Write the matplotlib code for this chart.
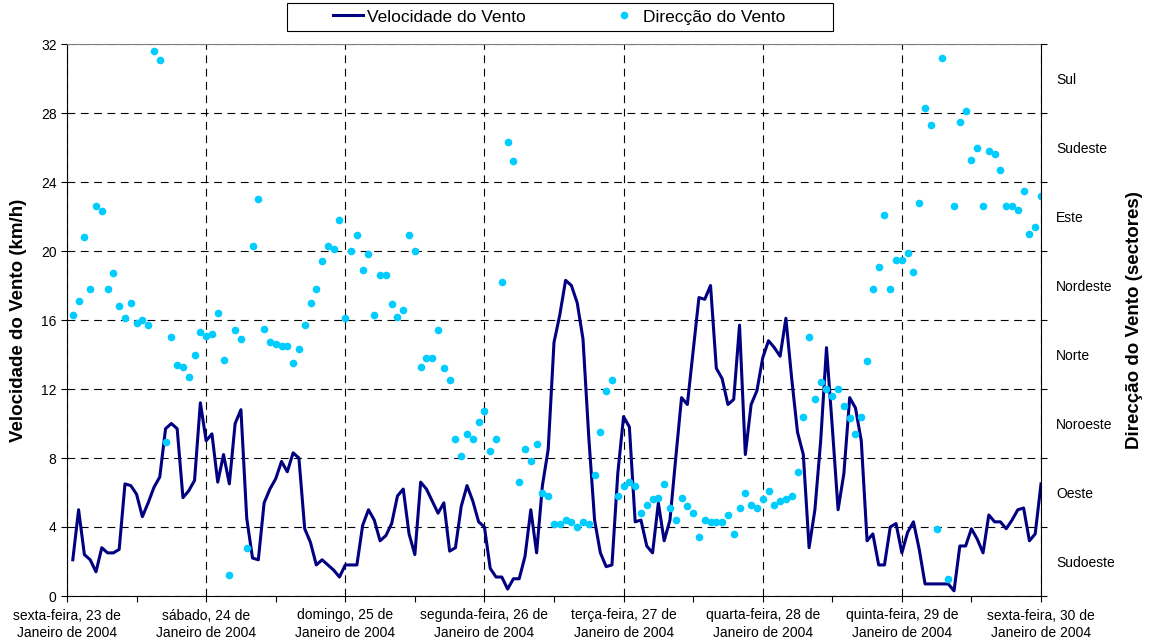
import matplotlib
matplotlib.use("Agg")
import matplotlib.pyplot as plt
from matplotlib.patches import Rectangle
from matplotlib.ticker import FixedLocator, FixedFormatter

plt.rcParams['font.family'] = ['Liberation Sans', 'DejaVu Sans']

# horas contadas desde sexta-feira 23/01/2004 00h
horas = list(range(1, 169))

# velocidade do vento (km/h), valores horários
velocidade = [
    2.1, 5.0, 2.4, 2.1, 1.4, 2.8, 2.5, 2.5, 2.7, 6.5, 6.4, 5.9, 4.6, 5.4, 6.3, 6.9, 9.7, 10.0, 9.7, 5.7, 6.1, 6.7, 11.2, 9.0,
    9.4, 6.6, 8.2, 6.5, 10.0, 10.8, 4.5, 2.2, 2.1, 5.4, 6.2, 6.8, 7.8, 7.2, 8.3, 8.0, 3.9, 3.1, 1.8, 2.1, 1.8, 1.5, 1.1, 1.8,
    1.8, 1.8, 4.1, 5.0, 4.4, 3.2, 3.5, 4.2, 5.8, 6.2, 3.6, 2.4, 6.6, 6.2, 5.5, 4.8, 5.4, 2.6, 2.8, 5.2, 6.4, 5.5, 4.3, 4.0,
    1.6, 1.1, 1.1, 0.4, 1.0, 1.0, 2.3, 5.0, 2.5, 6.4, 8.5, 14.7, 16.3, 18.3, 18.0, 17.0, 14.9, 9.2, 4.4, 2.5, 1.7, 1.8, 7.1, 10.4,
    9.8, 4.3, 4.4, 2.9, 2.5, 5.4, 3.2, 4.4, 8.0, 11.5, 11.1, 14.2, 17.3, 17.2, 18.0, 13.2, 12.6, 11.1, 11.4, 15.7, 8.2, 11.1, 11.9, 13.8,
    14.8, 14.4, 13.9, 16.1, 12.6, 9.5, 8.2, 2.8, 5.0, 9.0, 14.4, 9.8, 5.0, 7.1, 11.5, 10.9, 9.0, 3.2, 3.6, 1.8, 1.8, 4.0, 4.2, 2.5,
    3.7, 4.3, 2.7, 0.7, 0.7, 0.7, 0.7, 0.7, 0.3, 2.9, 2.9, 3.9, 3.3, 2.5, 4.7, 4.3, 4.3, 3.9, 4.4, 5.0, 5.1, 3.2, 3.6, 6.5,
]

# direcção do vento (na escala do eixo secundário)
direccao = [
    16.3, 17.1, 20.8, 17.8, 22.6, 22.3, 17.8, 18.7, 16.8, 16.1, 17.0, 15.8, 16.0, 15.7, 31.6, 31.1, 8.9, 15.0, 13.4, 13.3, 12.7, 14.0, 15.3, 15.1,
    15.2, 16.4, 13.7, 1.2, 15.4, 14.9, 2.8, 20.3, 23.0, 15.5, 14.7, 14.6, 14.5, 14.5, 13.5, 14.3, 15.7, 17.0, 17.8, 19.4, 20.3, 20.1, 21.8, 16.1,
    20.0, 20.9, 18.9, 19.8, 16.3, 18.6, 18.6, 16.9, 16.2, 16.6, 20.9, 20.0, 13.3, 13.8, 13.8, 15.4, 13.2, 12.5, 9.1, 8.1, 9.4, 9.1, 10.1, 10.7,
    8.4, 9.1, 18.2, 26.3, 25.2, 6.6, 8.5, 7.8, 8.8, 6.0, 5.8, 4.2, 4.2, 4.4, 4.3, 4.0, 4.3, 4.2, 7.0, 9.5, 11.9, 12.5, 5.8, 6.4,
    6.6, 6.4, 4.8, 5.3, 5.6, 5.7, 6.5, 5.1, 4.4, 5.7, 5.2, 4.8, 3.4, 4.4, 4.3, 4.3, 4.3, 4.7, 3.6, 5.1, 6.0, 5.3, 5.1, 5.6,
    6.1, 5.3, 5.5, 5.6, 5.8, 7.2, 10.4, 15.0, 11.4, 12.4, 12.0, 11.6, 12.0, 11.0, 10.3, 9.4, 10.4, 13.6, 17.8, 19.1, 22.1, 17.8, 19.5, 19.5,
    19.9, 18.8, 22.8, 28.3, 27.3, 3.9, 31.2, 1.0, 22.6, 27.5, 28.1, 25.3, 26.0, 22.6, 25.8, 25.6, 24.7, 22.6, 22.6, 22.4, 23.5, 21.0, 21.4, 23.2,
]

dias = [
    'sexta-feira, 23 de\nJaneiro de 2004',
    'sábado, 24 de\nJaneiro de 2004',
    'domingo, 25 de\nJaneiro de 2004',
    'segunda-feira, 26 de\nJaneiro de 2004',
    'terça-feira, 27 de\nJaneiro de 2004',
    'quarta-feira, 28 de\nJaneiro de 2004',
    'quinta-feira, 29 de\nJaneiro de 2004',
    'sexta-feira, 30 de\nJaneiro de 2004',
]
inicio_dias = [0, 24, 48, 72, 96, 120, 144, 168]
meio_dias = [12, 36, 60, 84, 108, 132, 156]

sectores = ['Sudoeste', 'Oeste', 'Noroeste', 'Norte', 'Nordeste', 'Este', 'Sudeste', 'Sul']
pos_sectores = [2, 6, 10, 14, 18, 22, 26, 30]

fig = plt.figure(figsize=(11.5, 6.43), dpi=100)
ax = fig.add_axes([67 / 1150, 47 / 643, 974 / 1150, 552 / 643])

ax.plot(horas, velocidade, color='#000080', lw=2.2, solid_joinstyle='round',
        label='Velocidade do Vento')
ax.set_xlim(0, 168)
ax.set_ylim(0, 32)
ax.set_yticks(range(0, 33, 4))
ax.set_xticks(inicio_dias)
ax.set_xticklabels(dias, linespacing=1.3)
ax.set_xticks(meio_dias, minor=True)
ax.tick_params(axis='both', which='both', direction='out', length=4, width=0.8,
               labelsize=10, colors='black')
ax.tick_params(axis='x', pad=5)
ax.grid(True, which='major', color='black', lw=0.8, ls=(0, (7, 5)))
ax.set_axisbelow(True)
ax.spines['top'].set_color('#808080')
ax.spines['right'].set_visible(False)
ax.set_ylabel('Velocidade do Vento (km/h)', fontsize=13.5, fontweight='bold')
ax.yaxis.set_label_coords(-0.041, 0.5)

ax2 = ax.twinx()
ax2.plot(horas, direccao, ls='none', marker='o', ms=5.5, color='#00CCFF',
         mec='none', label='Direcção do Vento')
ax2.set_ylim(0, 32)
ax2.set_yticks(range(0, 33, 4))
ax2.set_yticklabels([])
ax2.yaxis.set_minor_locator(FixedLocator(pos_sectores))
ax2.yaxis.set_minor_formatter(FixedFormatter(sectores))
ax2.tick_params(axis='y', which='major', direction='out', length=4, width=0.8)
ax2.tick_params(axis='y', which='minor', length=0, pad=11, labelsize=10)
for s in ['top', 'left', 'bottom']:
    ax2.spines[s].set_visible(False)
ax2.spines['right'].set_color('black')
ax2.set_ylabel('Direcção do Vento (sectores)', fontsize=13.5, fontweight='bold')
ax2.yaxis.set_label_coords(1.087, 0.5)

# legenda no topo, com moldura própria
h1, l1 = ax.get_legend_handles_labels()
h2, l2 = ax2.get_legend_handles_labels()
fig.legend(h1 + h2, l1 + l2, loc='center', bbox_to_anchor=(0.486, 0.9736),
           ncol=2, frameon=False, fontsize=12.5, handlelength=1.75,
           handletextpad=0.2, columnspacing=4.8)
fig.patches.append(Rectangle((287 / 1150, 1 - 31 / 643), 546 / 1150, 28 / 643,
                             transform=fig.transFigure, fill=False,
                             edgecolor='black', lw=0.8))

fig.savefig('out.png', dpi=100)
